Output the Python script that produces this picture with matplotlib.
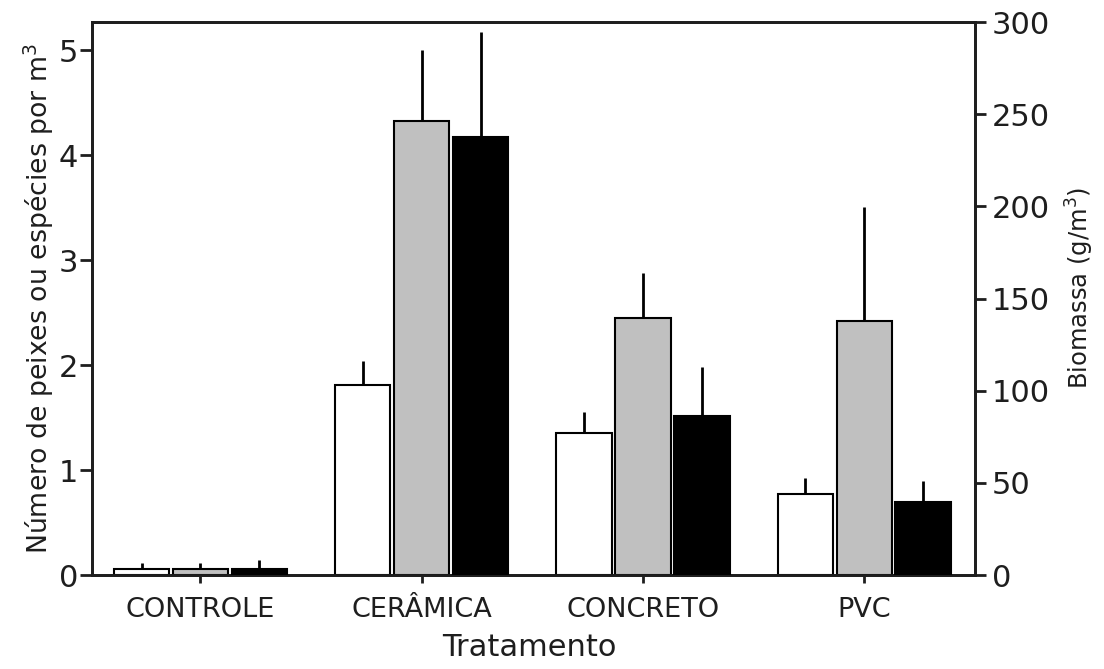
import numpy as np
import matplotlib
matplotlib.use("Agg")
import matplotlib.pyplot as plt

# treatments and per-group means (upper error = mean + sd top)
tratamentos = ["CONTROLE", "CERÂMICA", "CONCRETO", "PVC"]

especies = [0.06, 1.81, 1.35, 0.77]          # white bars, left axis
especies_sup = [0.11, 2.04, 1.55, 0.92]

peixes = [0.06, 4.33, 2.45, 2.42]            # gray bars, left axis
peixes_sup = [0.11, 5.00, 2.88, 3.51]

biomassa = [3.5, 237.5, 86.5, 39.7]          # black bars, right axis (g/m3)
biomassa_sup = [8.0, 294.6, 113.0, 51.0]

plt.rcParams['font.family'] = ['DejaVu Sans']

fig = plt.figure(figsize=(11.04, 6.69), dpi=100)
ax = fig.add_axes([0.0833, 0.1405, 0.7998, 0.8265])
ax2 = ax.twinx()

x = np.arange(len(tratamentos))
w = 0.25
off = 0.266
elw = 2.0
txt = "#1e1e1e"


def upper_err(vals, tops):
    return [np.zeros(len(vals)), np.array(tops) - np.array(vals)]


ax.bar(x - off, especies, w, color="white", edgecolor="black", linewidth=1.5, zorder=3)
ax.errorbar(x - off, especies, yerr=upper_err(especies, especies_sup), fmt="none",
            ecolor="black", elinewidth=elw, capsize=0, zorder=2)

ax.bar(x, peixes, w, color="#c0c0c0", edgecolor="black", linewidth=1.5, zorder=3)
ax.errorbar(x, peixes, yerr=upper_err(peixes, peixes_sup), fmt="none",
            ecolor="black", elinewidth=elw, capsize=0, zorder=2)

ax2.bar(x + off, biomassa, w, color="black", edgecolor="black", linewidth=1.5, zorder=3)
ax2.errorbar(x + off, biomassa, yerr=upper_err(biomassa, biomassa_sup), fmt="none",
             ecolor="black", elinewidth=elw, capsize=0, zorder=2)

ax.set_xlim(-0.49, 3.5)
ax.set_ylim(0, 5.27)
ax2.set_ylim(0, 300)

ax.set_xticks(x)
ax.set_xticklabels(tratamentos)
ax.set_yticks([0, 1, 2, 3, 4, 5])
ax2.set_yticks([0, 50, 100, 150, 200, 250, 300])

for a in (ax, ax2):
    for s in a.spines.values():
        s.set_linewidth(2)
        s.set_color(txt)

ax.tick_params(axis="y", direction="out", length=9, width=2, labelsize=22, pad=1, colors=txt)
ax.tick_params(axis="x", direction="out", length=6, width=2, labelsize=19.5, pad=10, colors=txt)
ax2.tick_params(axis="y", direction="out", length=8, width=2, labelsize=22, pad=4, colors=txt)

ax.set_ylabel("Número de peixes ou espécies por m$^3$", fontsize=19.3, color=txt, labelpad=2)
ax2.set_ylabel("Biomassa (g/m$^3$)", fontsize=17.5, color=txt)
ax2.yaxis.set_label_coords(1.101, 0.52)
ax.set_xlabel("Tratamento", fontsize=22, color=txt)
ax.xaxis.set_label_coords(0.495, -0.105)

fig.savefig("out.png", dpi=100, facecolor="white")
